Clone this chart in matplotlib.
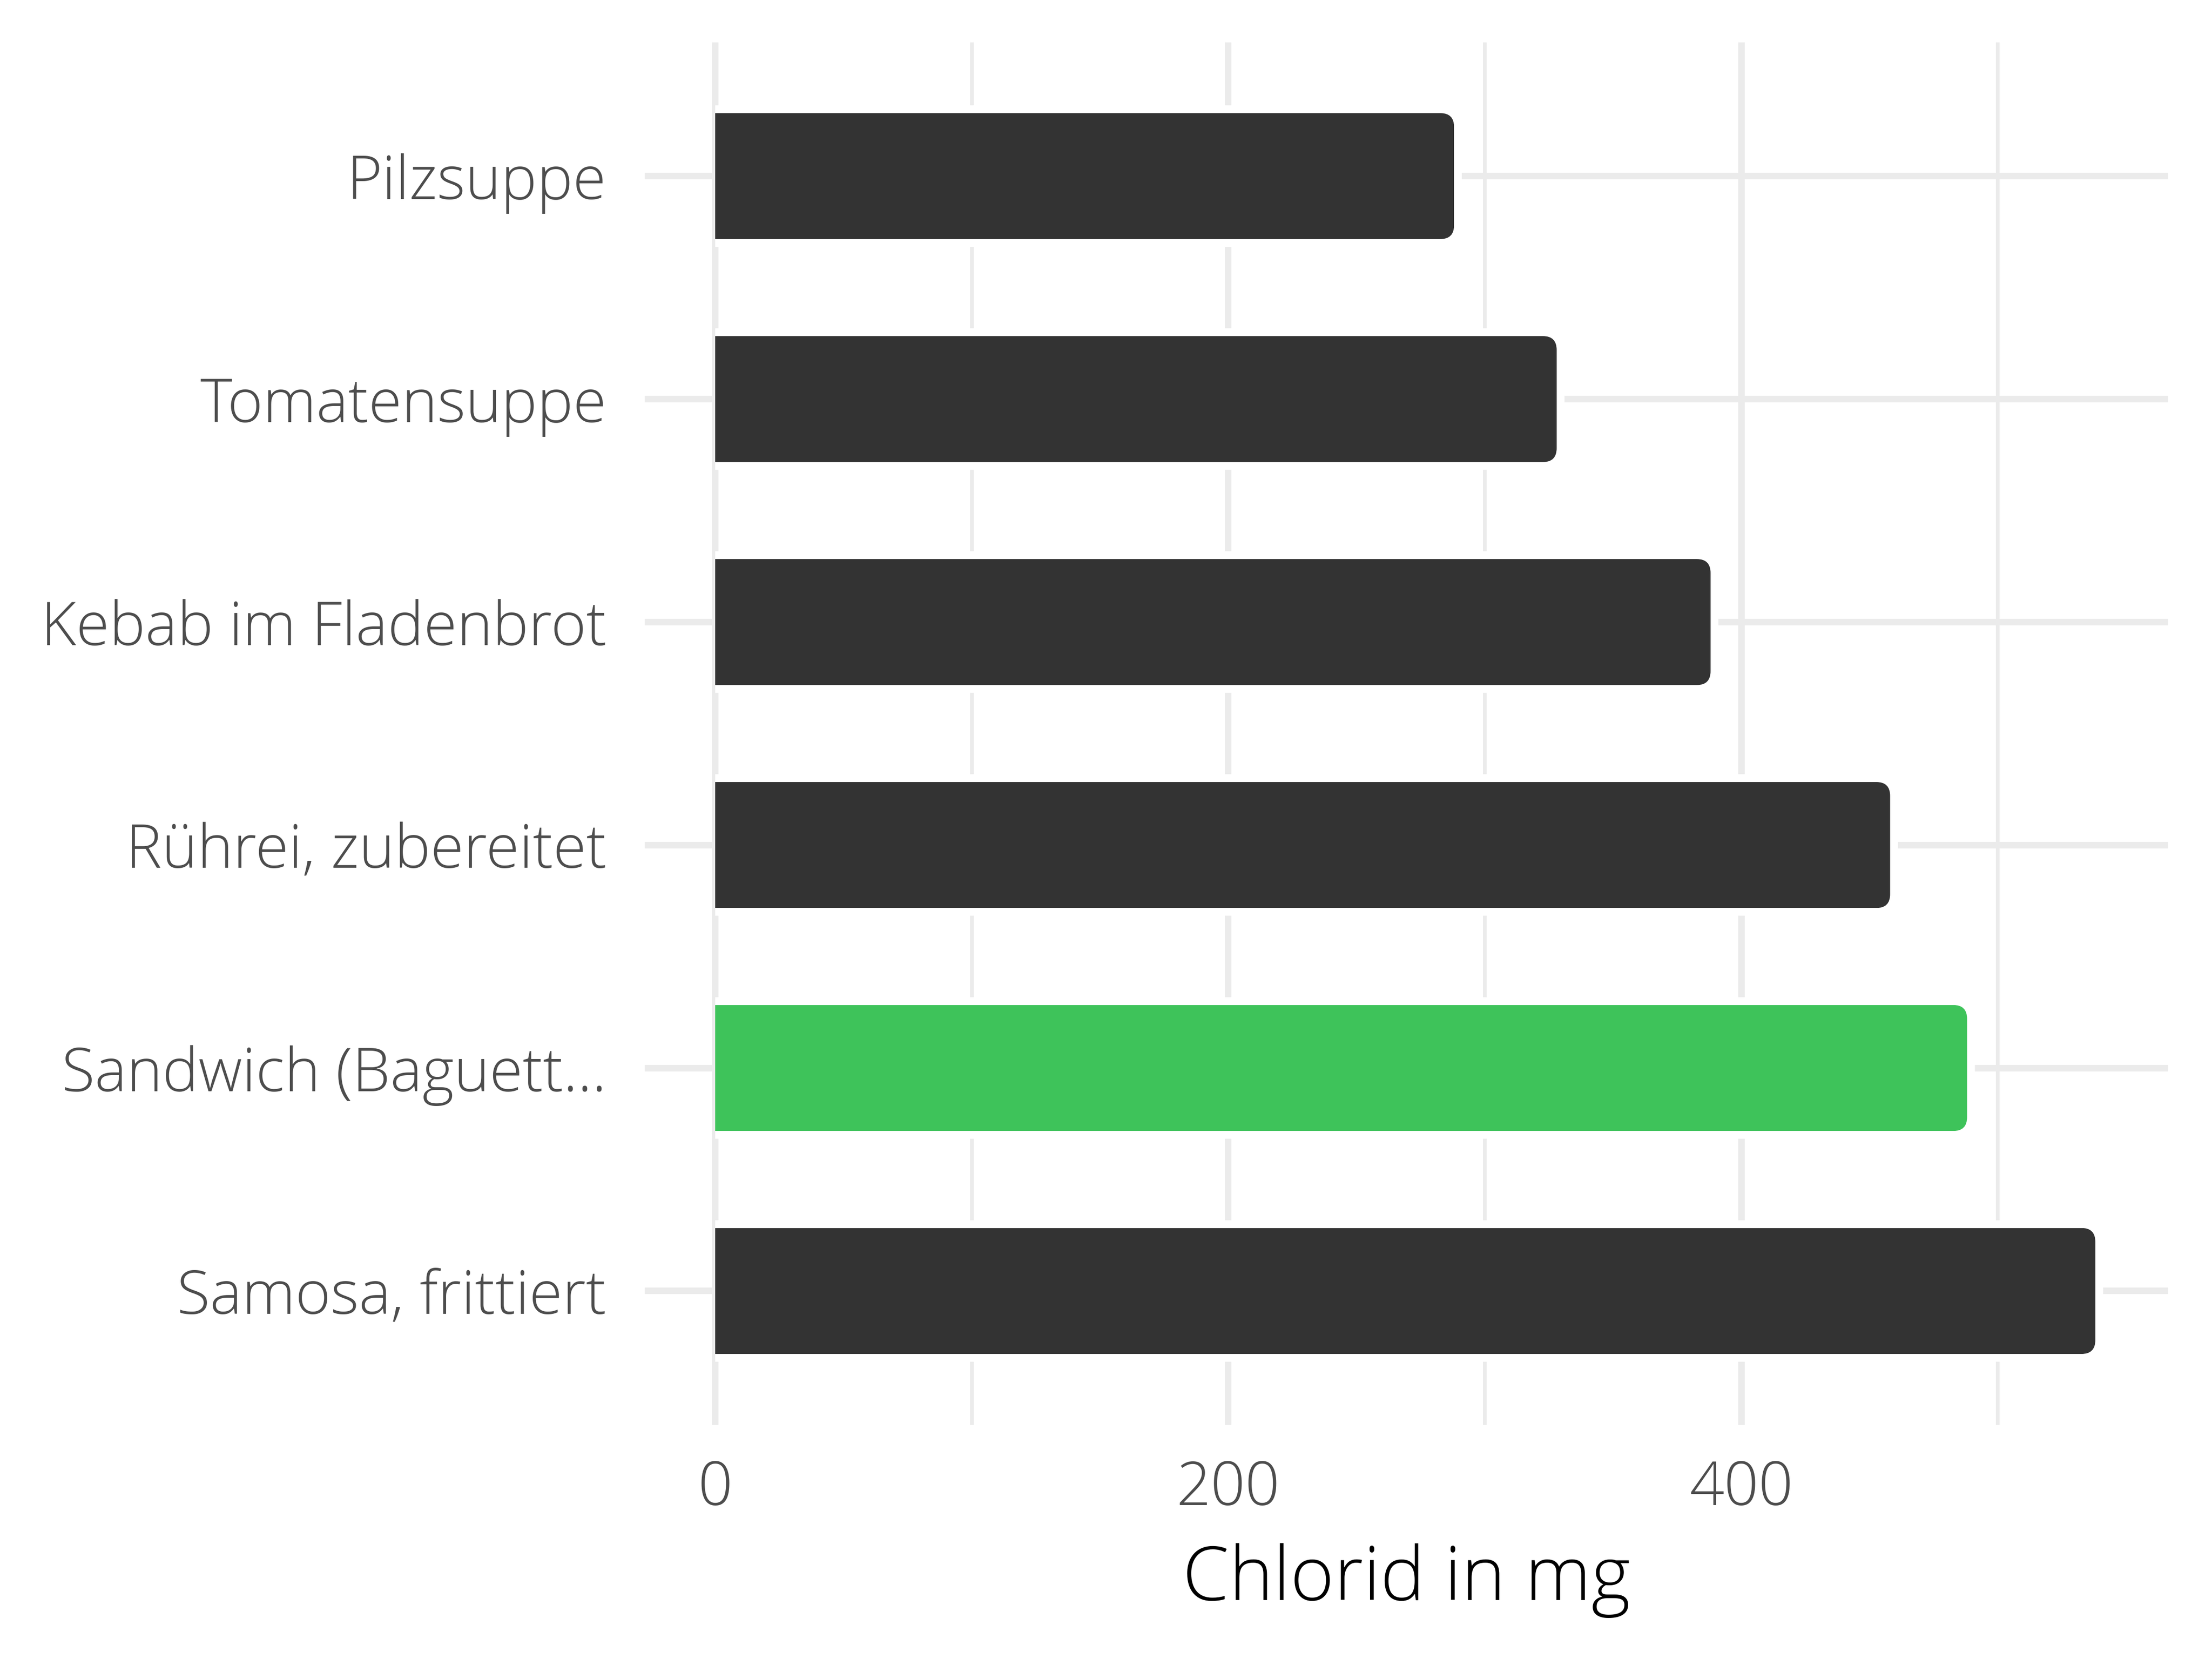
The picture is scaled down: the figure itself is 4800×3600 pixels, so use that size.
import matplotlib
matplotlib.use("Agg")
import matplotlib.pyplot as plt
from matplotlib.patches import FancyBboxPatch

categories = ["Pilzsuppe", "Tomatensuppe", "Kebab im Fladenbrot",
              "Rührei, zubereitet", "Sandwich (Baguett...", "Samosa, frittiert"]
values = [288, 328, 388, 458, 488, 538]
colors = ["#333333", "#333333", "#333333", "#333333", "#3EC35A", "#333333"]
xlabel = "Chlorid in mg"
major_ticks = [0, 200, 400]
minor_ticks = [100, 300, 500]

plt.rcParams['font.family'] = ['Open Sans', 'DejaVu Sans']

W, H = 16, 12
fig = plt.figure(figsize=(W, H), dpi=300)
pos = [0.2915, 0.1412, 0.6888, 0.8333]
ax = fig.add_axes(pos)

n = len(categories)
ypos = [n - i for i in range(n)]
xmin, xmax = -27.5, 566.5
ymin, ymax = 0.4, n + 0.6
ax.set_xlim(xmin, xmax)
ax.set_ylim(ymin, ymax)

# data units per pixel
dpi = 300
ax_w_px = pos[2] * W * dpi
ax_h_px = pos[3] * H * dpi
ux = (xmax - xmin) / ax_w_px
uy = (ymax - ymin) / ax_h_px
asp = uy / ux

bar_h = 0.565
r_px = 30
pad_px = 17
r = r_px * ux
pad_x = pad_px * ux
pad_y = pad_px * uy

# white backing (creates the gap in gridlines around bars)
backs = ax.barh(ypos, [v + pad_x for v in values], height=bar_h + 2 * pad_y,
                left=0, color="white", zorder=2)
for b, y, v in zip(backs, ypos, values):
    clip = FancyBboxPatch((-40, y - bar_h / 2), v + 40, bar_h,
                          boxstyle=f"round,pad={pad_x},rounding_size={r + pad_x}",
                          mutation_aspect=asp, transform=ax.transData,
                          facecolor="none", edgecolor="none")
    ax.add_patch(clip)
    clip.set_visible(False)
    b.set_clip_path(clip)

bars = ax.barh(ypos, values, height=bar_h, left=0, color=colors, zorder=3)
for b, y, v in zip(bars, ypos, values):
    clip = FancyBboxPatch((-40, y - bar_h / 2), v + 40, bar_h,
                          boxstyle=f"round,pad=0,rounding_size={r}",
                          mutation_aspect=asp, transform=ax.transData,
                          facecolor="none", edgecolor="none")
    ax.add_patch(clip)
    clip.set_visible(False)
    b.set_clip_path(clip)

ax.set_yticks(ypos)
ax.set_yticklabels(categories)
ax.set_xticks(major_ticks)
ax.set_xticks(minor_ticks, minor=True)
ax.set_xticklabels([str(t) for t in major_ticks])

ax.grid(True, which="major", axis="both", color="#EBEBEB", linewidth=3.4, zorder=0)
ax.grid(True, which="minor", axis="x", color="#EBEBEB", linewidth=1.9, zorder=0)
ax.set_axisbelow(True)

for s in ax.spines.values():
    s.set_visible(False)

ax.tick_params(axis="both", which="both", length=0)
ax.tick_params(axis="y", pad=20, labelsize=31.5, labelcolor="#4D4D4D")
ax.tick_params(axis="x", pad=18, labelsize=31.5, labelcolor="#4D4D4D")
for lab in ax.get_yticklabels() + ax.get_xticklabels():
    lab.set_fontweight("light")

ax.set_xlabel(xlabel, fontsize=39, color="black", labelpad=12, fontweight="light")

fig.savefig("out.png", dpi=300, facecolor="white")
